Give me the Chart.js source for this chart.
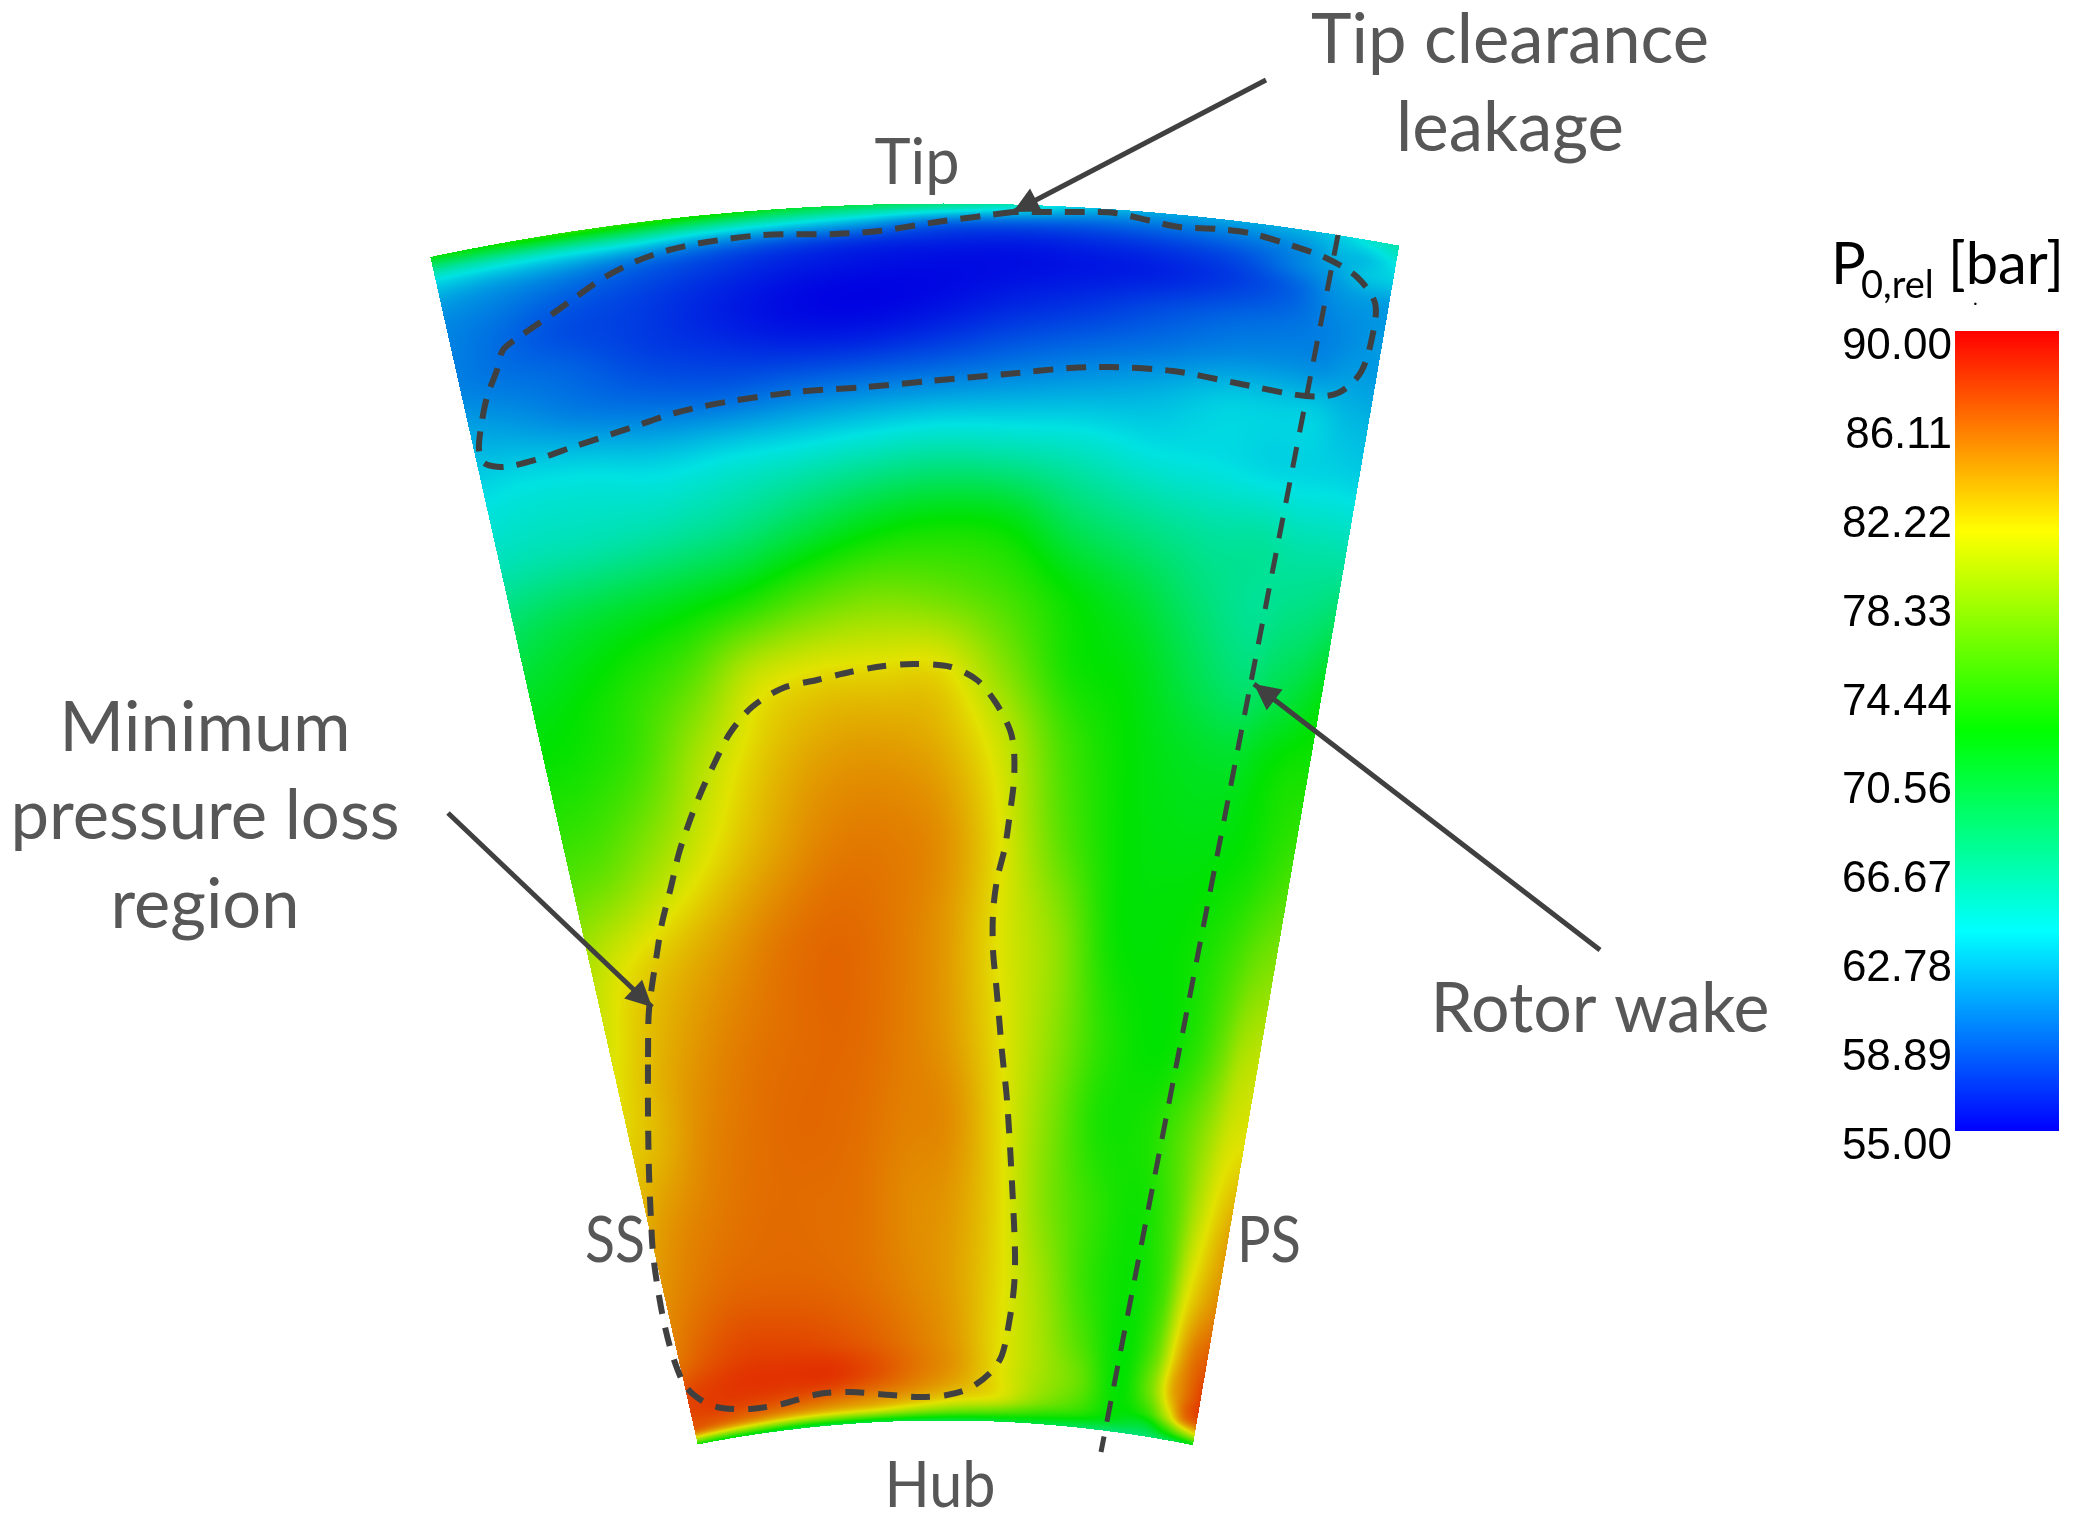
<!DOCTYPE html>
<html>
<head>
<meta charset="utf-8">
<title>Relative total pressure</title>
<script src="https://cdn.jsdelivr.net/npm/chart.js@4"></script>
<style>
  html, body { margin: 0; padding: 0; background: #fff; overflow: hidden; }
  #contour { position: absolute; left: 0; top: 0; }
  #colorbar { position: absolute; left: 1800px; top: 300px; }
</style>
</head>
<body>
<canvas id="contour" width="2077" height="1524"></canvas>
<canvas id="colorbar" width="277" height="880"></canvas>
<script>
// values: rows go hub to tip, columns go SS to PS
const spanPct = [0, 1, 2, 4, 7, 12, 18, 25, 32, 40, 48, 56, 62, 68, 74, 80, 85, 89, 92, 95, 97, 98.5, 100];
const pitchFrac = [0, .05, .12, .2, .28, .36, .44, .52, .6, .68, .76, .84, .9, .94, .97, 1];
const p0Rel = [
  [73, 72, 71, 70, 70, 70, 70, 70, 70, 70, 69, 68, 68, 69, 70, 72],
  [85, 84, 83, 82, 81.5, 81, 79.5, 78, 77, 75, 73.5, 71.5, 71, 75, 79, 82],
  [87, 87, 86.5, 86, 85.3, 84.5, 83.5, 82, 81, 78, 75.5, 72.5, 74.5, 80, 85, 87],
  [87.3, 87.7, 88, 88, 88, 87, 85.5, 84, 81.5, 79, 76.5, 72.5, 77, 83, 85.5, 87.5],
  [85.5, 86.5, 87.3, 87.3, 87, 86.3, 85.3, 84, 81.5, 79, 75.5, 72.5, 76, 82.2, 85.2, 86.5],
  [84.5, 85.3, 86, 86.1, 86, 85.6, 84.8, 83.8, 81.6, 78.5, 74.5, 72.8, 75, 80.7, 83, 84.5],
  [83.5, 84.5, 85.3, 85.8, 85.8, 85.6, 84.7, 84, 81.6, 77.5, 74.5, 73, 75.5, 79.5, 81.8, 83.5],
  [82, 83, 84.7, 85.6, 86, 85.8, 85.1, 84.5, 81.5, 77.5, 73.5, 73.5, 76, 78.5, 80.5, 81.3],
  [81, 82.5, 84, 85.2, 85.8, 86, 85.3, 84, 81.3, 78, 74, 72.5, 74, 76.5, 79, 80],
  [79.5, 81, 82.5, 84, 85.4, 86, 85.4, 84, 81, 78, 73, 72.5, 73.5, 75, 76.5, 77.5],
  [75.5, 76.2, 78.5, 81.3, 83.5, 85, 85.2, 84.3, 81, 76, 72.7, 72, 72.3, 73, 74, 75],
  [73, 73.4, 75, 79, 82, 83.5, 83.8, 83, 80, 75, 72.5, 71.2, 71, 72.2, 73, 73.3],
  [71.5, 72.2, 73.7, 76, 80, 81.3, 81.5, 81.3, 77.5, 73.3, 72, 69.5, 68.3, 69.5, 70.5, 72],
  [69, 70, 71, 72, 73.5, 75.7, 77, 76.5, 75, 72.5, 70.5, 68, 66.8, 67.5, 68, 69],
  [65.5, 65.8, 66, 66.5, 67.5, 69.5, 71.5, 72.5, 72, 69, 67.5, 66.5, 66.5, 66, 66, 66],
  [63.5, 63.8, 63.7, 63.2, 63.7, 64.2, 65, 65.7, 65.5, 65, 64, 63.7, 63.3, 63.3, 63.3, 63.2],
  [61.5, 61, 60, 59.3, 59, 59.5, 60, 60.5, 61, 61.5, 62, 63, 63, 63, 62.3, 62],
  [60, 59.5, 58.8, 57.6, 56.9, 56.3, 56.3, 57, 58, 58.8, 59.5, 60.3, 60.5, 60.5, 61, 61],
  [60, 59.2, 58, 57.3, 56.3, 55.4, 55.1, 55.5, 56.3, 57, 58, 59, 59.5, 60, 60.5, 61],
  [60.5, 60, 59, 58, 57, 56.1, 55.6, 55.4, 55.5, 55.8, 56.3, 57.4, 58.8, 60.5, 61, 61],
  [62, 61.5, 61, 60, 58.8, 57.8, 57, 56.5, 56.2, 56.5, 57, 58, 60, 61.3, 62.5, 63],
  [65, 65, 65, 65, 63.7, 62.7, 61.5, 59.5, 58.8, 58.5, 58.8, 59.5, 60.5, 62, 62.5, 64],
  [72, 72.5, 74, 74, 73, 71, 69.5, 68, 65.5, 62.5, 61.5, 61.5, 62, 63, 64.5, 66]
];

const colorbarTicks = [90, 86.11, 82.22, 78.33, 74.44, 70.56, 66.67, 62.78, 58.89, 55];
const colorbarRange = [55, 90];

// outlines
const tipRegion = [[1013,212],[937,222],[879,231],[835,234],[764,235],[707,242],[669,250],[637,261],[605,277],[576,297],[551,315],[522,335],[503,350],[497,370],[487,397],[481,427],[479,450],[484,463],[503,467],[535,460],[573,447],[630,428],[675,413],[726,402],[796,392],[866,387],[930,381],[1007,374],[1070,368],[1109,367],[1173,371],[1236,383],[1306,396],[1338,393],[1361,372],[1373,333],[1375,303],[1357,277],[1326,258],[1281,242],[1249,233],[1217,229],[1179,227],[1147,220],[1115,213],[1083,212],[1013,212]];
const coreRegion = [[648,1057],[649,1010],[657,953],[662,923],[671,887],[679,853],[690,820],[702,790],[716,760],[730,733],[752,707],[783,688],[817,680],[850,672],[884,666],[915,664],[951,667],[977,680],[996,703],[1010,730],[1014,750],[1014,780],[1010,813],[1005,847],[997,880],[993,913],[993,950],[996,983],[999,1017],[1002,1052],[1007,1100],[1012,1183],[1015,1253],[1014,1287],[1009,1323],[1002,1355],[991,1372],[970,1388],[947,1395],[920,1397],[878,1394],[851,1392],[819,1394],[782,1404],[750,1409],[722,1408],[704,1402],[686,1387],[674,1360],[665,1327],[658,1290],[653,1253],[651,1220],[649,1173],[648,1113],[648,1057]];
const wakeLine = [[1338,235],[1101,1452]];

const arrows = [
  [[1266,80],[1013,212]],
  [[1600,950],[1254,684]],
  [[448,813],[652,1007]]
];

const labels = [
  { text: 'Tip clearance', x: 1510, y: 63, size: 70, w: 398 },
  { text: 'leakage', x: 1510, y: 151, size: 70, w: 228 },
  { text: 'Tip', x: 917, y: 184, size: 64, w: 85 },
  { text: 'Minimum', x: 205, y: 751, size: 70, w: 293 },
  { text: 'pressure loss', x: 205, y: 839, size: 70, w: 389 },
  { text: 'region', x: 205, y: 928, size: 70, w: 189 },
  { text: 'Rotor wake', x: 1600, y: 1032, size: 70, w: 339 },
  { text: 'SS', x: 615, y: 1262, size: 64, w: 60 },
  { text: 'PS', x: 1269, y: 1262, size: 64, w: 64 },
  { text: 'Hub', x: 940, y: 1507, size: 64, w: 111 }
];

// sector geometry, in the same units as the scales
const edgeApex = { x: 978, y: 2691 };   // where the SS and PS edges meet
const arcCentre = { x: 943, y: 2691 };  // hub and tip arcs are off that by a bit
const hubR = 1271, tipR = 2488;
const ssAngle = -12.69, psAngle = 9.76;

const rainbow = [[0, 0, 255], [0, 255, 255], [0, 255, 0], [255, 255, 0], [255, 0, 0]];
const shade = 0.885;
const inkColor = '#404040';

function rainbowAt(v) {
  let f = (v - colorbarRange[0]) / (colorbarRange[1] - colorbarRange[0]) * 4;
  f = Math.max(0, Math.min(3.9999, f));
  const i = Math.floor(f), u = f - i;
  const a = rainbow[i], b = rainbow[i + 1];
  return [a[0] + (b[0] - a[0]) * u, a[1] + (b[1] - a[1]) * u, a[2] + (b[2] - a[2]) * u];
}

function findCell(xs, x) {
  let i = 0;
  while (i < xs.length - 2 && x > xs[i + 1]) i++;
  return i;
}

// cubic hermite through the read values, only used to shade between cells
function hermite(xs, ys, i, x) {
  const n = xs.length;
  const h = xs[i + 1] - xs[i], u = (x - xs[i]) / h;
  const m0 = i > 0 ? (ys[i + 1] - ys[i - 1]) / (xs[i + 1] - xs[i - 1]) : (ys[i + 1] - ys[i]) / h;
  const m1 = i < n - 2 ? (ys[i + 2] - ys[i]) / (xs[i + 2] - xs[i]) : (ys[i + 1] - ys[i]) / h;
  const u2 = u * u, u3 = u2 * u;
  return (2 * u3 - 3 * u2 + 1) * ys[i] + (u3 - 2 * u2 + u) * h * m0 + (-2 * u3 + 3 * u2) * ys[i + 1] + (u3 - u2) * h * m1;
}

const contourPlugin = {
  id: 'contour',
  beforeDatasetsDraw(chart) {
    const xs = chart.scales.x, ys = chart.scales.y, ctx = chart.ctx;
    const w = chart.width, h = chart.height;
    const img = ctx.createImageData(w, h);
    for (let py = 0; py < h; py++) {
      const vy = ys.getValueForPixel(py);
      for (let px = 0; px < w; px++) {
        const vx = xs.getValueForPixel(px);
        const ax = vx - arcCentre.x, ay = arcCentre.y - vy;
        const r = Math.sqrt(ax * ax + ay * ay);
        if (r < hubR || r > tipR) continue;
        const t = (Math.atan2(vx - edgeApex.x, edgeApex.y - vy) * 180 / Math.PI - ssAngle) / (psAngle - ssAngle);
        if (t < 0 || t > 1) continue;
        const s = (r - hubR) / (tipR - hubR) * 100;
        const si = findCell(spanPct, s), ti = findCell(pitchFrac, t);
        // evaluate neighbouring rows along the pitch, then across span
        const from = Math.max(0, si - 1), to = Math.min(spanPct.length - 1, si + 2);
        const rowVals = [], rowPos = [];
        for (let k = from; k <= to; k++) {
          rowVals.push(hermite(pitchFrac, p0Rel[k], ti, t));
          rowPos.push(spanPct[k]);
        }
        const v = hermite(rowPos, rowVals, si - from, s);
        const c = rainbowAt(v);
        const o = (py * w + px) * 4;
        img.data[o] = c[0] * shade;
        img.data[o + 1] = c[1] * shade;
        img.data[o + 2] = c[2] * shade;
        img.data[o + 3] = 255;
      }
    }
    const off = document.createElement('canvas');
    off.width = w;
    off.height = h;
    off.getContext('2d').putImageData(img, 0, 0);
    ctx.drawImage(off, 0, 0);
  },
  afterDatasetsDraw(chart) {
    const xs = chart.scales.x, ys = chart.scales.y, ctx = chart.ctx;
    ctx.save();
    // arrow heads
    ctx.fillStyle = inkColor;
    arrows.forEach(function (a) {
      const x0 = xs.getPixelForValue(a[0][0]), y0 = ys.getPixelForValue(a[0][1]);
      const x1 = xs.getPixelForValue(a[1][0]), y1 = ys.getPixelForValue(a[1][1]);
      const ang = Math.atan2(y1 - y0, x1 - x0);
      ctx.save();
      ctx.translate(x1, y1);
      ctx.rotate(ang);
      ctx.beginPath();
      ctx.moveTo(0, 0);
      ctx.lineTo(-26, -13);
      ctx.lineTo(-26, 13);
      ctx.closePath();
      ctx.fill();
      ctx.restore();
    });
    // text
    ctx.fillStyle = '#575757';
    ctx.textAlign = 'center';
    ctx.textBaseline = 'alphabetic';
    labels.forEach(function (l) {
      ctx.font = l.size + 'px Lato';
      ctx.fillText(l.text, xs.getPixelForValue(l.x), ys.getPixelForValue(l.y), l.w);
    });
    // colour bar title
    ctx.fillStyle = '#000';
    ctx.textAlign = 'left';
    ctx.font = '58px Lato';
    ctx.fillText('P', xs.getPixelForValue(1831), ys.getPixelForValue(284));
    ctx.font = '38px Lato';
    ctx.fillText('0,rel', xs.getPixelForValue(1861), ys.getPixelForValue(298), 74);
    ctx.font = '58px Lato';
    ctx.fillText('[bar]', xs.getPixelForValue(1948), ys.getPixelForValue(284), 116);
    ctx.font = '20px Lato';
    ctx.fillText('.', xs.getPixelForValue(1973), ys.getPixelForValue(305));
    ctx.restore();
  }
};

function toPoints(list) {
  return list.map(function (p) { return { x: p[0], y: p[1] }; });
}

const lineDefaults = { showLine: true, pointRadius: 0, borderColor: inkColor, fill: false };

new Chart(document.getElementById('contour').getContext('2d'), {
  type: 'scatter',
  data: {
    datasets: [
      Object.assign({ label: 'Tip clearance leakage', data: toPoints(tipRegion), borderWidth: 6, borderDash: [20, 13], tension: 0.3 }, lineDefaults),
      Object.assign({ label: 'Minimum pressure loss region', data: toPoints(coreRegion), borderWidth: 6, borderDash: [19, 14], tension: 0.3 }, lineDefaults),
      Object.assign({ label: 'Rotor wake', data: toPoints(wakeLine), borderWidth: 5, borderDash: [21, 15] }, lineDefaults)
    ].concat(arrows.map(function (a, i) {
      return Object.assign({ label: 'arrow ' + i, data: toPoints(a), borderWidth: 5 }, lineDefaults);
    }))
  },
  options: {
    responsive: false,
    animation: false,
    layout: { padding: 0 },
    plugins: { legend: { display: false }, tooltip: { enabled: false } },
    scales: {
      x: { type: 'linear', display: false, min: 0, max: 2077 },
      y: { type: 'linear', display: false, min: 0, max: 1524, reverse: true }
    }
  },
  plugins: [contourPlugin]
});

new Chart(document.getElementById('colorbar').getContext('2d'), {
  type: 'bar',
  data: {
    labels: ['P0,rel'],
    datasets: [{
      data: [colorbarRange],
      barPercentage: 1,
      categoryPercentage: 1,
      backgroundColor: function (context) {
        const area = context.chart.chartArea;
        if (!area) return '#000';
        const g = context.chart.ctx.createLinearGradient(0, area.bottom, 0, area.top);
        rainbow.forEach(function (c, i) {
          g.addColorStop(i / (rainbow.length - 1), 'rgb(' + c.join(',') + ')');
        });
        return g;
      }
    }]
  },
  options: {
    responsive: false,
    animation: false,
    layout: { padding: { top: 31, bottom: 49, right: 18, left: 0 } },
    plugins: { legend: { display: false }, tooltip: { enabled: false } },
    scales: {
      x: { display: false },
      y: {
        min: colorbarRange[0],
        max: colorbarRange[1],
        grid: { display: false, drawTicks: false },
        border: { display: false },
        afterBuildTicks: function (axis) {
          axis.ticks = colorbarTicks.map(function (v) { return { value: v }; });
        },
        afterFit: function (axis) { axis.width = 155; },
        ticks: {
          autoSkip: false,
          padding: 3,
          labelOffset: 16,
          color: '#000',
          font: { family: 'Liberation Sans', size: 44 },
          callback: function (v) { return v.toFixed(2); }
        }
      }
    }
  }
});
</script>
</body>
</html>
